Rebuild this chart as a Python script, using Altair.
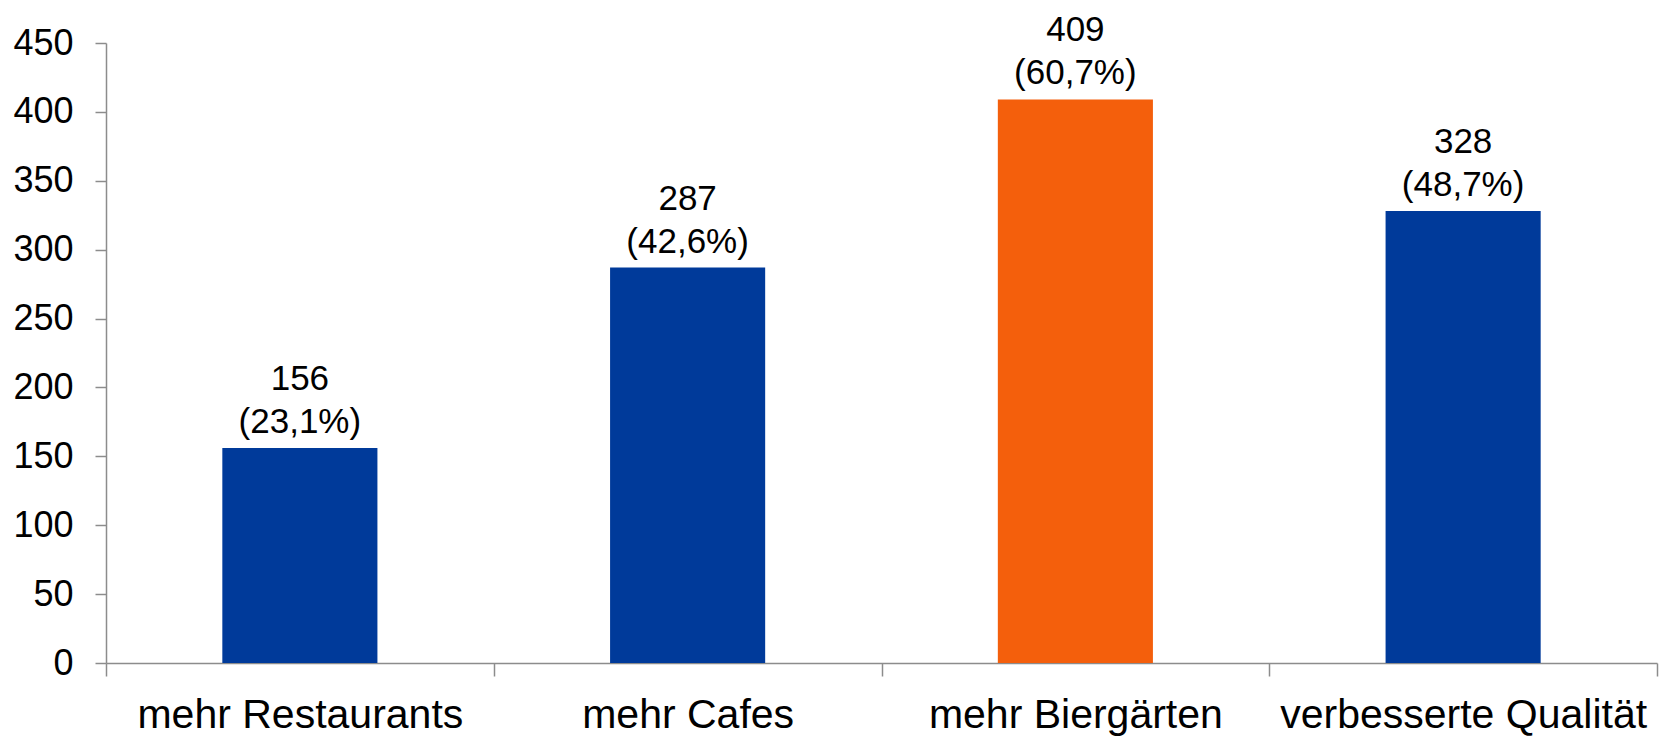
import altair as alt
import pandas as pd

categories = ["mehr Restaurants", "mehr Cafes", "mehr Biergärten", "verbesserte Qualität"]
values = [156, 287, 409, 328]
percents = ["23,1%", "42,6%", "60,7%", "48,7%"]
colors = ["#003A9A", "#003A9A", "#F45F0C", "#003A9A"]

df = pd.DataFrame({
    "cat": categories,
    "val": values,
    "label": [f"{v}\n({p})" for v, p in zip(values, percents)],
    "color": colors,
})

FONT = "Liberation Sans"

x = alt.X("cat:N", sort=categories, title=None,
          scale=alt.Scale(paddingInner=0, paddingOuter=0),
          axis=alt.Axis(labelAngle=0, tickBand="extent", tickSize=13, labelPadding=19,
                        labelFontSize=41, labelFont=FONT, labelColor="#000000",
                        domainColor="#8c8c8c", tickColor="#8c8c8c", domainWidth=1.5, tickWidth=1.5,
                        labelLimit=0))
y = alt.Y("val:Q", title=None,
          scale=alt.Scale(domain=[0, 450], nice=False),
          axis=alt.Axis(values=list(range(0, 451, 50)), grid=False, tickSize=11, labelPadding=22,
                        labelFontSize=36, labelFont=FONT, labelColor="#000000",
                        domainColor="#8c8c8c", tickColor="#8c8c8c", domainWidth=1.5, tickWidth=1.5))

bars = alt.Chart(df).mark_bar(width=alt.RelativeBandSize(0.4)).encode(
    x=x, y=y, color=alt.Color("color:N", scale=None)
)

text = alt.Chart(df).mark_text(baseline="bottom", dy=-51, fontSize=35, font=FONT,
                               lineBreak="\n", lineHeight=43, color="#000000").encode(
    x=alt.X("cat:N", sort=categories), y="val:Q", text="label:N"
)

chart = (bars + text).properties(
    width=1551, height=620,
    autosize=alt.AutoSizeParams(type="none"),
    padding={"left": 98, "top": 35, "right": 2, "bottom": 74},
).configure_view(stroke=None)

chart.save("out.html", embed_options={"renderer": "svg", "actions": False})
